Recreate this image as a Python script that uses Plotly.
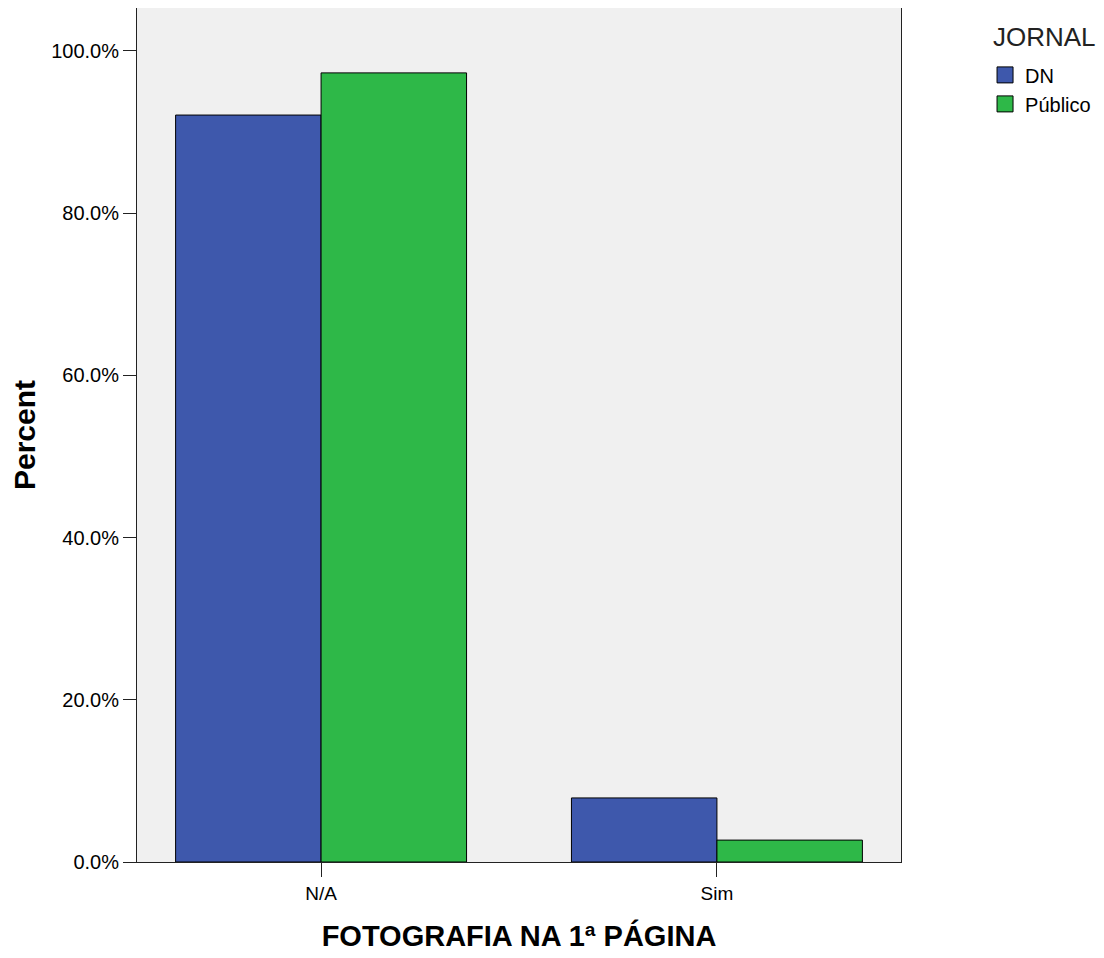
import plotly.graph_objects as go

categories = ["N/A", "Sim"]
series_names = ["DN", "Público"]
dn_values = [92.1, 7.9]
publico_values = [97.3, 2.7]
y_ticks = [0, 20, 40, 60, 80, 100]
y_tick_labels = ["0.0%", "20.0%", "40.0%", "60.0%", "80.0%", "100.0%"]
legend_title = "JORNAL"
x_title = "FOTOGRAFIA NA 1ª PÁGINA"
y_title = "Percent"
colors = ["#3E58AC", "#2EB848"]

FONT = "Liberation Sans, Arial, sans-serif"

fig = go.Figure()
for name, vals, col in zip(series_names, [dn_values, publico_values], colors):
    fig.add_trace(go.Bar(
        x=categories, y=vals, name=name,
        marker=dict(color=col, line=dict(color="#000000", width=1)),
        showlegend=False,
    ))
    fig.add_trace(go.Scatter(
        x=[None], y=[None], mode="markers", name=name,
        marker=dict(symbol="square", size=16, color=col,
                    line=dict(color="#000000", width=1)),
        showlegend=True,
    ))

# page body has an 8px margin; figure coords = page coords - 8
fig.update_layout(
    width=1096, height=950,
    barmode="group", bargap=0.265, bargroupgap=0,
    paper_bgcolor="white", plot_bgcolor="#F0F0F0",
    margin=dict(l=129, r=203, t=0, b=96),
    font=dict(family=FONT, color="#000000"),
    legend=dict(
        font=dict(size=20, family=FONT),
        x=1.110, xanchor="left", xref="paper",
        y=0.9445, yanchor="top",
        bgcolor="rgba(0,0,0,0)", borderwidth=0,
        itemsizing="trace", tracegroupgap=0,
    ),
    annotations=[dict(
        text=legend_title, xref="paper", yref="paper",
        x=1.1178, y=1.0, xanchor="left", yanchor="top", yshift=-12,
        showarrow=False, font=dict(size=26, family=FONT, color="#222222"),
    )],
)
fig.update_xaxes(
    type="category", range=[-0.465, 1.465],
    showline=True, mirror=True, linecolor="#222222", linewidth=1,
    ticks="outside", ticklen=14, tickcolor="#222222",
    tickfont=dict(size=19, family=FONT),
    showgrid=False, zeroline=False,
    title=dict(text="<b>" + x_title + "</b>", font=dict(size=29, family=FONT), standoff=22),
)
fig.update_yaxes(
    range=[0, 105.3], tickvals=y_ticks, ticktext=y_tick_labels,
    showline=True, mirror=True, linecolor="#222222", linewidth=1,
    ticks="outside", ticklen=13, tickcolor="#222222",
    tickfont=dict(size=20, family=FONT),
    showgrid=False, zeroline=False,
    title=dict(text="<b>" + y_title + "</b>", font=dict(size=30, family=FONT), standoff=12),
)

fig.write_html("out.html")
